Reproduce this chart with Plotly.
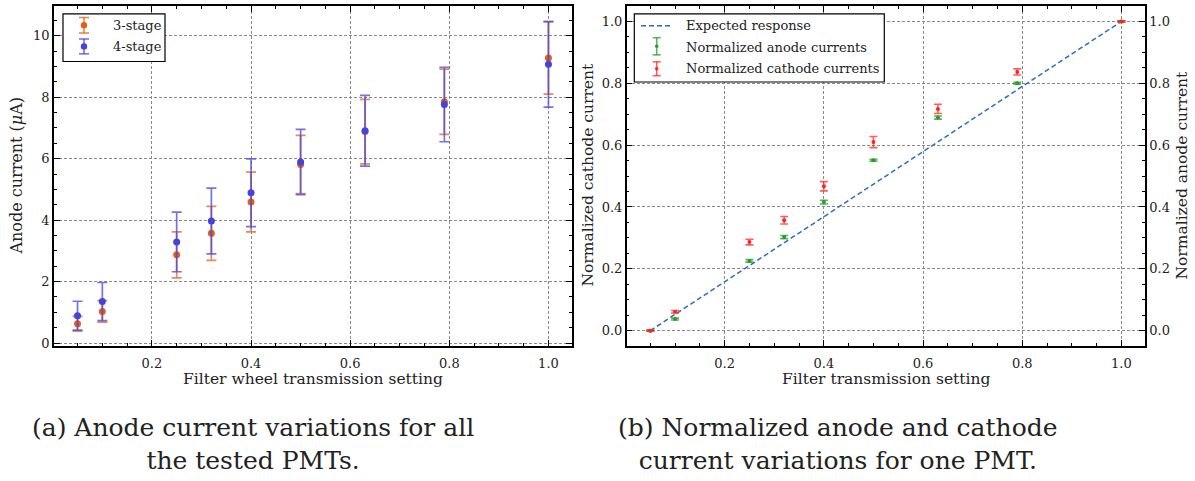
import plotly.graph_objects as go

# ---- data -------------------------------------------------------------
x_setting = [0.05, 0.10, 0.25, 0.32, 0.40, 0.50, 0.63, 0.79, 1.00]

stage3_mean = [0.63, 1.03, 2.87, 3.57, 4.59, 5.81, 6.88, 7.85, 9.28]
stage3_err = [0.24, 0.35, 0.75, 0.88, 0.97, 0.95, 1.05, 1.06, 1.18]
stage4_mean = [0.89, 1.35, 3.29, 3.97, 4.89, 5.89, 6.91, 7.76, 9.07]
stage4_err = [0.47, 0.62, 0.97, 1.07, 1.10, 1.06, 1.15, 1.21, 1.39]

anode_norm = [0.0, 0.0375, 0.2256, 0.3025, 0.4157, 0.551, 0.689, 0.800, 1.0]
anode_err = [0.002, 0.003, 0.004, 0.005, 0.006, 0.003, 0.005, 0.003, 0.002]
cathode_norm = [0.0, 0.061, 0.2865, 0.357, 0.467, 0.610, 0.717, 0.8365, 1.0]
cathode_err = [0.002, 0.004, 0.009, 0.012, 0.015, 0.018, 0.015, 0.010, 0.002]

expected_x = [0.05, 1.00]
expected_y = [0.0, 1.0]

# ---- styling ------------------------------------------------------------
W, H = 1195, 481
FONT = "DejaVu Serif"
ORANGE = "#e4601a"
ORANGE_A = "rgba(228,96,26,0.75)"
BLUE = "#4444dc"
BLUE_A = "rgba(68,68,220,0.75)"
GREEN = "#2a9a2a"
GREEN_A = "rgba(42,154,42,0.75)"
RED = "#ff2020"
RED_A = "rgba(255,40,40,0.75)"
LINE_BLUE = "#2a6fbd"


def px(x):
    return x / W


def py(y):
    return 1 - y / H


fig = go.Figure()

# (a) anode currents for all tubes
fig.add_trace(go.Scatter(
    x=x_setting, y=stage3_mean, mode="markers", name="3-stage",
    marker=dict(color=ORANGE, size=7),
    error_y=dict(type="data", array=stage3_err, symmetric=True,
                 color=ORANGE_A, thickness=1.7, width=5),
    xaxis="x", yaxis="y", showlegend=False))
fig.add_trace(go.Scatter(
    x=x_setting, y=stage4_mean, mode="markers", name="4-stage",
    marker=dict(color=BLUE, size=7),
    error_y=dict(type="data", array=stage4_err, symmetric=True,
                 color=BLUE_A, thickness=1.7, width=5),
    xaxis="x", yaxis="y", showlegend=False))

# (b) normalised currents for one tube
fig.add_trace(go.Scatter(
    x=expected_x, y=expected_y, mode="lines", name="Expected response",
    line=dict(color=LINE_BLUE, width=1.5, dash="5px,3px"),
    xaxis="x2", yaxis="y2", showlegend=False))
fig.add_trace(go.Scatter(
    x=x_setting, y=anode_norm, mode="markers", name="Normalized anode currents",
    marker=dict(color=GREEN, size=4),
    error_y=dict(type="data", array=anode_err, symmetric=True,
                 color=GREEN_A, thickness=1.6, width=4),
    xaxis="x2", yaxis="y2", showlegend=False))
fig.add_trace(go.Scatter(
    x=x_setting, y=cathode_norm, mode="markers", name="Normalized cathode currents",
    marker=dict(color=RED, size=4),
    error_y=dict(type="data", array=cathode_err, symmetric=True,
                 color=RED_A, thickness=1.6, width=4),
    xaxis="x2", yaxis="y2", showlegend=False))
# the right-hand anode scale carries the same normalised anode values
fig.add_trace(go.Scatter(
    x=x_setting, y=anode_norm, mode="markers", name="anode scale",
    marker=dict(color="rgba(0,0,0,0)", size=1), hoverinfo="skip",
    xaxis="x2", yaxis="y3", showlegend=False))

tickfont = dict(family=FONT, size=13, color="#222")
common = dict(
    showline=True, linecolor="black", linewidth=1.5, mirror="ticks",
    ticks="inside", ticklen=6, tickwidth=1, tickcolor="black",
    showgrid=True, gridcolor="#8a8a8a", gridwidth=0.8, griddash="3px,2px",
    zeroline=False, tickfont=tickfont, tickformat=".1f",
)

dom_y = [py(349), py(6)]
dom_xa = [px(54), px(572)]
dom_xb = [px(626.7), px(1145)]

fig.update_layout(
    width=W, height=H, margin=dict(l=0, r=0, t=0, b=0),
    paper_bgcolor="white", plot_bgcolor="white",
    font=dict(family=FONT, color="#222"),
    xaxis=dict(domain=dom_xa, range=[0.0025, 1.0475], tick0=0, dtick=0.2,
               minor=dict(ticks="inside", ticklen=3, dtick=0.05, tick0=0,
                          tickcolor="black"),
               anchor="y", ticklabelstandoff=5, **common),
    yaxis=dict(domain=dom_y, range=[-0.1, 10.97], tick0=0, dtick=2,
               minor=dict(ticks="inside", ticklen=3, dtick=0.5, tick0=0,
                          tickcolor="black"),
               anchor="x", **{**common, "tickformat": "d"}),
    xaxis2=dict(domain=dom_xb, range=[0.0025, 1.0475], tick0=0, dtick=0.2,
                minor=dict(ticks="inside", ticklen=3, dtick=0.05, tick0=0,
                           tickcolor="black"),
                anchor="y2", ticklabelstandoff=5, **common),
    yaxis2=dict(domain=dom_y, range=[-0.05, 1.05], tick0=0, dtick=0.2,
                minor=dict(ticks="inside", ticklen=3, dtick=0.05, tick0=0,
                           tickcolor="black"),
                anchor="x2", **common),
    yaxis3=dict(domain=dom_y, range=[-0.05, 1.05], tick0=0, dtick=0.2,
                overlaying="y2", side="right", anchor="x2",
                showline=True, linecolor="black", linewidth=1.5,
                ticks="inside", ticklen=6, tickcolor="black",
                minor=dict(ticks="inside", ticklen=3, dtick=0.05, tick0=0,
                           tickcolor="black"),
                showgrid=False, zeroline=False, tickfont=tickfont,
                tickformat=".1f"),
)

shapes = []
annotations = []

# axis titles
title_font = dict(family=FONT, size=15.5, color="#222")
annotations += [
    dict(x=px(313), y=py(382), text="Filter wheel transmission setting",
         font=title_font),
    dict(x=px(886), y=py(382), text="Filter transmission setting",
         font=title_font),
    dict(x=px(17), y=py(177), text="Anode current (<i>μ</i>A)",
         textangle=-90, font=dict(title_font, size=16)),
    dict(x=px(588), y=py(177), text="Normalized cathode current",
         textangle=-90, font=title_font),
    dict(x=px(1182), y=py(177), text="Normalized anode current",
         textangle=-90, font=title_font),
]

# captions
cap_font = dict(family=FONT, size=25, color="#222")
annotations += [
    dict(x=px(253), y=py(448), text="(a) Anode current variations for all<br>the tested PMTs.",
         font=cap_font, align="center"),
    dict(x=px(838), y=py(448), text="(b) Normalized anode and cathode<br>current variations for one PMT.",
         font=cap_font, align="center"),
]


def errbar_glyph(x, ytop, ybot, half, color, color_a, r):
    yc = (ytop + ybot) / 2
    out = [
        dict(type="line", x0=px(x), x1=px(x), y0=py(ytop), y1=py(ybot),
             line=dict(color=color_a, width=1.6)),
        dict(type="line", x0=px(x - half), x1=px(x + half), y0=py(ytop), y1=py(ytop),
             line=dict(color=color_a, width=1.6)),
        dict(type="line", x0=px(x - half), x1=px(x + half), y0=py(ybot), y1=py(ybot),
             line=dict(color=color_a, width=1.6)),
        dict(type="circle", x0=px(x - r), x1=px(x + r), y0=py(yc - r), y1=py(yc + r),
             fillcolor=color, line=dict(width=0)),
    ]
    return out


leg_font = dict(family=FONT, size=13, color="#222")

# legend (a)
shapes.append(dict(type="rect", x0=px(63), x1=px(165), y0=py(14), y1=py(62),
                   line=dict(color="black", width=1.2), fillcolor="white", layer="above"))
shapes += errbar_glyph(84, 17.7, 33.3, 5, ORANGE, ORANGE_A, 3.2)
shapes += errbar_glyph(84, 39.3, 54.3, 5, BLUE, BLUE_A, 3.2)
annotations += [
    dict(x=px(111), y=py(25.5), text="3-stage", xanchor="left", font=leg_font),
    dict(x=px(111), y=py(47), text="4-stage", xanchor="left", font=leg_font),
]

# legend (b)
shapes.append(dict(type="rect", x0=px(634.3), x1=px(884.3), y0=py(14), y1=py(82.7),
                   line=dict(color="black", width=1.2), fillcolor="white", layer="above"))
shapes.append(dict(type="line", x0=px(641), x1=px(671), y0=py(26), y1=py(26),
                   line=dict(color=LINE_BLUE, width=1.5, dash="5px,3px"), layer="above"))
shapes += errbar_glyph(656.7, 38, 55.3, 4, GREEN, GREEN_A, 1.7)
shapes += errbar_glyph(656.7, 62.3, 76.3, 4, RED, RED_A, 1.7)
annotations += [
    dict(x=px(684), y=py(26), text="Expected response", xanchor="left", font=leg_font),
    dict(x=px(684), y=py(47.5), text="Normalized anode currents", xanchor="left", font=leg_font),
    dict(x=px(684), y=py(69), text="Normalized cathode currents", xanchor="left", font=leg_font),
]

for s in shapes:
    s.setdefault("xref", "paper")
    s.setdefault("yref", "paper")
    s.setdefault("layer", "above")
for a in annotations:
    a.setdefault("xref", "paper")
    a.setdefault("yref", "paper")
    a.setdefault("xanchor", "center")
    a.setdefault("yanchor", "middle")
    a.setdefault("showarrow", False)

fig.update_layout(shapes=shapes, annotations=annotations)

fig.write_html("out.html")
